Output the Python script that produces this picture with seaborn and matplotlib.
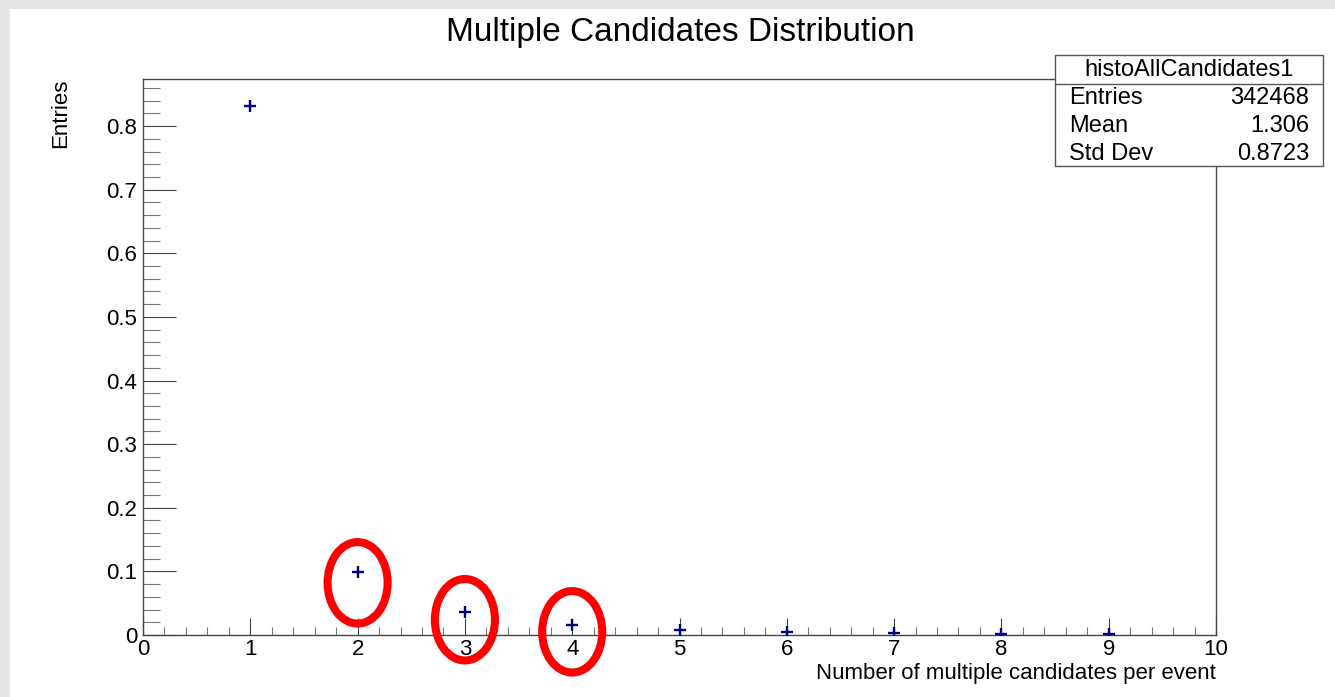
import matplotlib
matplotlib.use("Agg")
import matplotlib.pyplot as plt
import seaborn as sns
import pandas as pd
from matplotlib.patches import Ellipse, Rectangle
from matplotlib.ticker import MultipleLocator

# Data
n_candidates = [1, 2, 3, 4, 5, 6, 7, 8, 9]
fraction = [0.832, 0.099, 0.036, 0.015, 0.008, 0.005, 0.003, 0.001, 0.001]
highlighted = [2, 3, 4]
highlight_y = [0.082, 0.024, 0.005]
stats_labels = ["Entries", "Mean", "Std Dev"]
stats_values = ["342468", "1.306", "0.8723"]
hist_name = "histoAllCandidates1"

sns.set_theme(style="white")
plt.rcParams['font.family'] = ['Liberation Sans', 'DejaVu Sans']
plt.rcParams['text.color'] = 'black'
plt.rcParams['axes.labelcolor'] = 'black'
plt.rcParams['xtick.color'] = 'black'
plt.rcParams['ytick.color'] = 'black'

W, H = 1335, 697
fig = plt.figure(figsize=(W / 100, H / 100), dpi=100, facecolor="#e6e6e6")
fig.patches.append(Rectangle((10 / W, 0), 1 - 10 / W, 1 - 9 / H, transform=fig.transFigure,
                             facecolor="white", edgecolor="none", zorder=-10))

ax = fig.add_axes([143 / W, 1 - 635 / H, (1216 - 143) / W, (635 - 79) / H])
ax.set_facecolor("white")

df = pd.DataFrame({"n": n_candidates, "f": fraction})
sns.scatterplot(data=df, x="n", y="f", marker="+", s=75, color="#000080",
                linewidth=1.7, ax=ax, zorder=5, legend=False)

ax.set_xlim(0, 10)
ax.set_ylim(0, 0.874)
ax.xaxis.set_major_locator(MultipleLocator(1))
ax.xaxis.set_minor_locator(MultipleLocator(0.2))
ax.yaxis.set_major_locator(MultipleLocator(0.1))
ax.yaxis.set_minor_locator(MultipleLocator(0.02))
ax.tick_params(axis="x", which="major", direction="in", length=12.5, width=0.8, color="#444444",
               labelsize=16, pad=3, bottom=True)
ax.tick_params(axis="x", which="minor", direction="in", length=6, width=0.8, color="#777777",
               bottom=True)
ax.tick_params(axis="y", which="major", direction="in", length=24, width=0.8, color="#444444",
               labelsize=16, pad=4, left=True)
ax.tick_params(axis="y", which="minor", direction="in", length=12.5, width=0.8, color="#777777",
               left=True)
ax.set_xticklabels(["0" if v == 0 else f"{int(v)}" for v in ax.get_xticks()])
yt = ax.get_yticks()
ax.set_yticklabels(["0" if abs(v) < 1e-9 else f"{v:.1f}" for v in yt])
for s in ax.spines.values():
    s.set_color("#444444")
    s.set_linewidth(1)

ax.set_xlabel("Number of multiple candidates per event", fontsize=16)
ax.xaxis.set_label_coords(1.0, -0.05)
ax.xaxis.label.set_horizontalalignment("right")
ax.set_ylabel("Entries", fontsize=16)
ax.yaxis.set_label_coords(-0.077, 1.0)
ax.yaxis.label.set_verticalalignment("center")
ax.yaxis.label.set_horizontalalignment("right")

fig.text(680 / W, 1 - 33 / H, "Multiple Candidates Distribution", fontsize=24,
         ha="center", va="center")

# Red ellipse highlights
for xv, yc in zip(highlighted, highlight_y):
    ax.add_patch(Ellipse((xv, yc), width=0.56, height=0.128, fill=False,
                         edgecolor="red", linewidth=5.8, zorder=6, clip_on=False))

# Stats box
bx0, bx1, by0, by1 = 1055, 1323, 55, 166
fig.patches.append(Rectangle((bx0 / W, 1 - by1 / H), (bx1 - bx0) / W, (by1 - by0) / H,
                             transform=fig.transFigure, facecolor="white",
                             edgecolor="#555555", linewidth=1, zorder=10))
fig.add_artist(plt.Line2D([bx0 / W, bx1 / W], [1 - 84 / H, 1 - 84 / H],
                          transform=fig.transFigure, color="#555555", linewidth=1, zorder=11))
fig.text((bx0 + bx1) / 2 / W, 1 - 70 / H, hist_name, fontsize=17, ha="center", va="center", zorder=12)
for i, (lab, val) in enumerate(zip(stats_labels, stats_values)):
    yy = 1 - (98 + i * 28) / H
    fig.text(1069 / W, yy, lab, fontsize=17, ha="left", va="center", zorder=12)
    fig.text(1309 / W, yy, val, fontsize=17, ha="right", va="center", zorder=12)

fig.savefig("out.png", dpi=100, facecolor=fig.get_facecolor())
